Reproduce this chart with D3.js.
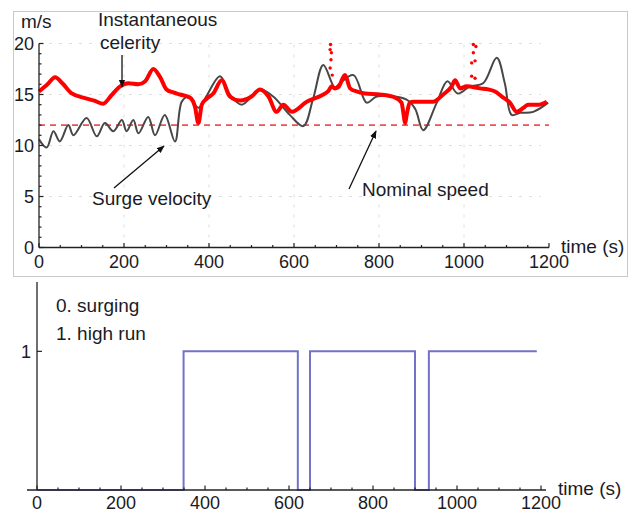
<!DOCTYPE html>
<html>
<head>
<meta charset="utf-8">
<script src="https://cdn.jsdelivr.net/npm/d3@7"></script>
<style>
  html, body { margin: 0; padding: 0; background: #fff; }
  svg { display: block; font-family: "Liberation Sans", Arial, sans-serif; }
</style>
</head>
<body>
<svg id="chart" width="629" height="513"></svg>
<script>
// Instantaneous celerity (m/s) over time (s)
const celerityTime  = [0, 20, 38, 55, 77, 108, 130, 151, 170, 191, 210, 234, 250, 269, 285, 300, 316, 332, 355, 367, 375, 383, 395, 410, 430, 449, 473, 500, 520, 540, 559, 575, 595, 630, 669, 680, 689, 696, 704, 720, 732, 747, 767, 802, 838, 853, 858, 861, 866, 872, 881, 928, 951, 971, 979, 991, 1006, 1038, 1057, 1073, 1089, 1108, 1124, 1140, 1151, 1175, 1195];
const celerityValue = [15.3, 16.0, 16.7, 16.1, 15.1, 14.65, 14.4, 14.1, 14.9, 15.8, 16.1, 16.0, 16.3, 17.5, 16.7, 15.5, 15.2, 15.0, 14.7, 13.8, 12.2, 14.0, 14.6, 15.1, 16.4, 14.8, 14.4, 14.8, 15.5, 14.8, 13.3, 14.0, 13.3, 14.3, 15.0, 15.3, 15.8, 15.6, 15.7, 16.9, 15.6, 15.3, 15.1, 15.0, 14.7, 14.2, 13.0, 12.2, 13.2, 14.2, 14.3, 14.3, 15.0, 15.8, 16.4, 15.6, 15.8, 15.6, 15.5, 15.3, 14.8, 14.2, 13.3, 13.7, 14.0, 14.0, 14.3];

// Isolated celerity samples during the two jumps
const spikeTime  = [686, 685, 688, 687, 685, 690, 1022, 1028, 1022, 1026, 1018, 1018, 1026];
const spikeValue = [19.9, 19.4, 19.1, 18.4, 17.6, 16.9, 19.9, 19.7, 19.1, 18.3, 18.1, 16.8, 16.6];

// Surge velocity (m/s) over time (s)
const surgeTime  = [0, 18, 34, 49, 69, 81, 112, 136, 155, 175, 195, 206, 222, 234, 257, 273, 296, 320, 336, 352, 375, 392, 426, 449, 477, 520, 551, 590, 622, 645, 669, 696, 708, 740, 771, 795, 865, 885, 904, 936, 961, 985, 1014, 1045, 1077, 1096, 1112, 1132, 1163, 1198];
const surgeValue = [10.6, 9.8, 11.4, 10.4, 12.0, 11.0, 12.7, 10.9, 12.2, 11.4, 12.5, 11.4, 12.5, 11.2, 12.8, 11.0, 13.0, 10.4, 14.3, 14.8, 13.7, 14.7, 16.8, 15.0, 14.0, 15.5, 14.8, 13.0, 11.9, 14.6, 17.9, 15.7, 16.1, 16.9, 14.2, 14.8, 14.5, 13.6, 11.5, 14.2, 16.3, 15.1, 15.8, 16.1, 18.6, 16.1, 13.0, 13.2, 13.3, 14.2];

const nominalSpeed = 12;

// Operating mode: 0 = surging, 1 = high run
const modeTime  = [0, 349, 621, 650, 900, 933, 1190];
const modeValue = [0, 1, 0, 1, 0, 1, 1];

const xTickLabels   = [0, 200, 400, 600, 800, 1000, 1200];
const yTickLabels   = [0, 5, 10, 15, 20];
const modeTickLabels = [1];
const modeLegend = ["0. surging", "1. high run"];

const svg = d3.select("#chart");
const TICK_FONT = 18;
const FONT = 19;
const INK = "#1b1b24";

// arrowhead marker for annotations
svg.append("defs").append("marker")
  .attr("id", "arrow").attr("viewBox", "0 0 10 10")
  .attr("refX", 9).attr("refY", 5)
  .attr("markerWidth", 8).attr("markerHeight", 8)
  .attr("markerUnits", "userSpaceOnUse")
  .attr("orient", "auto")
  .append("path").attr("d", "M0,1 L10,5 L0,9 Z").attr("fill", "#111");

// ---------- upper panel: velocities ----------
svg.append("rect")
  .attr("x", 13.5).attr("y", 11.5).attr("width", 614).attr("height", 265)
  .attr("fill", "none").attr("stroke", "#c9c9c9").attr("stroke-width", 1);

const x1 = d3.scaleLinear().domain([0, 1200]).range([39, 549]);
const y1 = d3.scaleLinear().domain([0, 20]).range([247.5, 43.5]);

// faint dashed grid
const grid = svg.append("g").attr("stroke", "#dedede").attr("stroke-width", 1)
  .attr("stroke-dasharray", "3,7");
yTickLabels.filter(d => d > 0).forEach(v => {
  grid.append("line").attr("x1", x1(0)).attr("x2", x1(1180))
    .attr("y1", y1(v)).attr("y2", y1(v));
});
xTickLabels.filter(d => d > 0 && d < 1200).forEach(t => {
  grid.append("line").attr("x1", x1(t)).attr("x2", x1(t))
    .attr("y1", y1(0)).attr("y2", y1(20));
});

// nominal speed
svg.append("line")
  .attr("x1", x1(0)).attr("x2", x1(1200))
  .attr("y1", y1(nominalSpeed)).attr("y2", y1(nominalSpeed))
  .attr("stroke", "#f05050").attr("stroke-width", 1.6)
  .attr("stroke-dasharray", "6,5");

// surge velocity
const surge = surgeTime.map((t, i) => [t, surgeValue[i]]);
svg.append("path")
  .datum(surge)
  .attr("d", d3.line().x(d => x1(d[0])).y(d => y1(d[1])).curve(d3.curveCatmullRom.alpha(0.5)))
  .attr("fill", "none").attr("stroke", "#474747").attr("stroke-width", 2);

// celerity
const cel = celerityTime.map((t, i) => [t, celerityValue[i]]);
svg.append("path")
  .datum(cel)
  .attr("d", d3.line().x(d => x1(d[0])).y(d => y1(d[1])).curve(d3.curveMonotoneX))
  .attr("fill", "none").attr("stroke", "#ff0000").attr("stroke-width", 4)
  .attr("stroke-linejoin", "round");

svg.append("g").selectAll("circle")
  .data(spikeTime.map((t, i) => [t, spikeValue[i]]))
  .join("circle")
  .attr("cx", d => x1(d[0])).attr("cy", d => y1(d[1]))
  .attr("r", 1.7).attr("fill", "#ff0000");

// axes (ticks point into the plot)
const xAxis1 = svg.append("g").attr("transform", `translate(0,${y1(0)})`);
xAxis1.append("line").attr("x1", x1(0)).attr("x2", x1(1200)).attr("stroke", "#222").attr("stroke-width", 1.3);
d3.range(0, 1201, 50).forEach(t => {
  const major = t % 200 === 0;
  xAxis1.append("line").attr("x1", x1(t)).attr("x2", x1(t))
    .attr("y1", 0).attr("y2", major ? -4.5 : -2.5)
    .attr("stroke", "#222").attr("stroke-width", 1.2);
});
xAxis1.selectAll("text.tick").data(xTickLabels).join("text")
  .attr("x", d => x1(d)).attr("y", 20)
  .attr("text-anchor", "middle").attr("font-size", TICK_FONT).attr("fill", INK)
  .text(d => d);

const yAxis1 = svg.append("g").attr("transform", `translate(${x1(0)},0)`);
yAxis1.append("line").attr("y1", y1(0)).attr("y2", y1(20)).attr("stroke", "#222").attr("stroke-width", 1.3);
d3.range(0, 21, 1).forEach(v => {
  const major = v % 5 === 0;
  yAxis1.append("line").attr("x1", 0).attr("x2", major ? 4.5 : 2.5)
    .attr("y1", y1(v)).attr("y2", y1(v))
    .attr("stroke", "#222").attr("stroke-width", 1.2);
});
yAxis1.selectAll("text.tick").data(yTickLabels).join("text")
  .attr("x", -5).attr("y", d => y1(d)).attr("dy", "0.35em")
  .attr("text-anchor", "end").attr("font-size", TICK_FONT).attr("fill", INK)
  .text(d => d);

svg.append("text").attr("x", 21).attr("y", 28).attr("font-size", FONT).attr("fill", INK).text("m/s");
svg.append("text").attr("x", 561).attr("y", 253).attr("font-size", FONT).attr("fill", INK).text("time (s)");

// annotations
svg.append("text").attr("x", 98).attr("y", 26).attr("font-size", FONT).attr("fill", INK).text("Instantaneous");
svg.append("text").attr("x", 100).attr("y", 49).attr("font-size", FONT).attr("fill", INK).text("celerity");
svg.append("line").attr("x1", 122).attr("y1", 55).attr("x2", 122).attr("y2", 87)
  .attr("stroke", "#111").attr("stroke-width", 1.3).attr("marker-end", "url(#arrow)");

svg.append("text").attr("x", 92).attr("y", 205).attr("font-size", FONT).attr("fill", INK).text("Surge velocity");
svg.append("line").attr("x1", 114).attr("y1", 188).attr("x2", 164).attr("y2", 146)
  .attr("stroke", "#111").attr("stroke-width", 1.3).attr("marker-end", "url(#arrow)");

svg.append("text").attr("x", 362).attr("y", 196).attr("font-size", FONT).attr("fill", INK).text("Nominal speed");
svg.append("line").attr("x1", 349).attr("y1", 189).attr("x2", 376).attr("y2", 131)
  .attr("stroke", "#111").attr("stroke-width", 1.3).attr("marker-end", "url(#arrow)");

// ---------- lower panel: operating mode ----------
const x2 = d3.scaleLinear().domain([0, 1200]).range([37, 541]);
const y2 = d3.scaleLinear().domain([0, 1.5]).range([490, 282]);

const mode = modeTime.map((t, i) => [t, modeValue[i]]);
svg.append("path")
  .datum(mode)
  .attr("d", d3.line().x(d => x2(d[0])).y(d => y2(d[1])).curve(d3.curveStepAfter))
  .attr("fill", "none").attr("stroke", "#7272c6").attr("stroke-width", 2);

const xAxis2 = svg.append("g").attr("transform", `translate(0,${y2(0)})`);
xAxis2.append("line").attr("x1", 27).attr("x2", 546).attr("stroke", "#222").attr("stroke-width", 1.3);
d3.range(0, 1201, 50).forEach(t => {
  const major = t % 200 === 0;
  xAxis2.append("line").attr("x1", x2(t)).attr("x2", x2(t))
    .attr("y1", 0).attr("y2", major ? -4.5 : -2.5)
    .attr("stroke", "#222").attr("stroke-width", 1.2);
});
xAxis2.selectAll("text.tick").data(xTickLabels).join("text")
  .attr("x", d => x2(d)).attr("y", 19)
  .attr("text-anchor", "middle").attr("font-size", TICK_FONT).attr("fill", INK)
  .text(d => d);

const yAxis2 = svg.append("g").attr("transform", `translate(${x2(0)},0)`);
yAxis2.append("line").attr("y1", y2(0)).attr("y2", y2(1.5)).attr("stroke", "#222").attr("stroke-width", 1.3);
yAxis2.selectAll("line.tk").data(modeTickLabels).join("line")
  .attr("x1", 0).attr("x2", 5).attr("y1", d => y2(d)).attr("y2", d => y2(d))
  .attr("stroke", "#222").attr("stroke-width", 1.2);
yAxis2.selectAll("text.tick").data(modeTickLabels).join("text")
  .attr("x", -6).attr("y", d => y2(d)).attr("dy", "0.35em")
  .attr("text-anchor", "end").attr("font-size", TICK_FONT).attr("fill", INK)
  .text(d => d);

svg.append("g").selectAll("text").data(modeLegend).join("text")
  .attr("x", 56).attr("y", (d, i) => 312 + i * 28)
  .attr("font-size", FONT).attr("fill", INK).text(d => d);

svg.append("text").attr("x", 558).attr("y", 495).attr("font-size", FONT).attr("fill", INK).text("time (s)");
</script>
</body>
</html>
